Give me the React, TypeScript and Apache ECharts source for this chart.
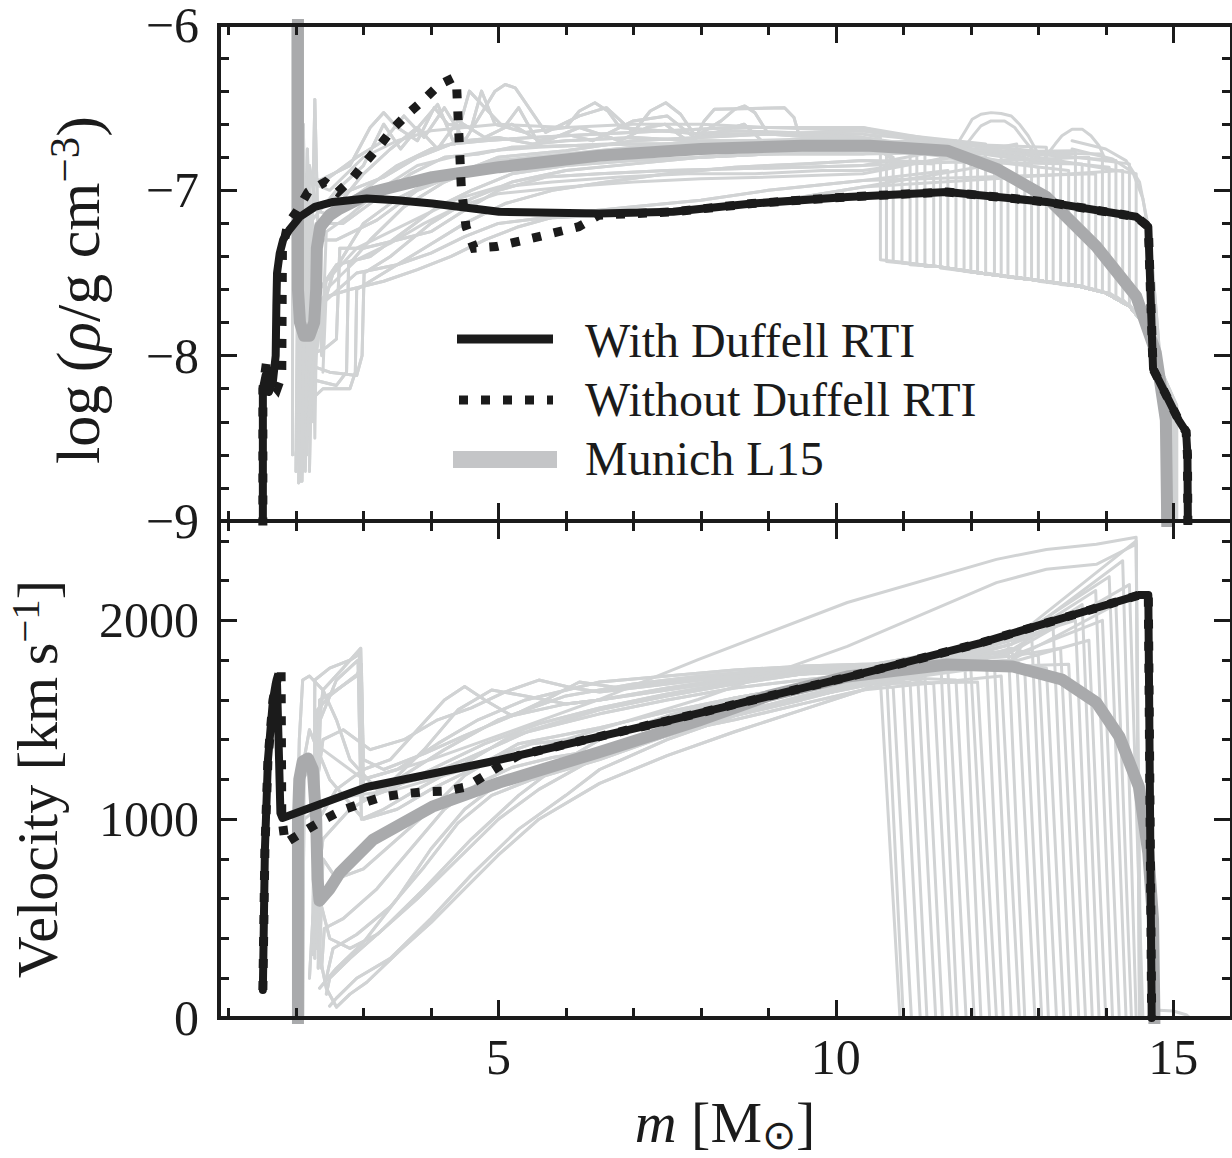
import React, { useEffect, useRef } from 'react';
import * as echarts from 'echarts';

const FONT = '"Liberation Serif", "Times New Roman", Times, serif';
const INK = '#1b1b1b';
const THIN_GRAY = '#d1d3d4';
const L15_GRAY = '#a9aaac';
const LEGEND_GRAY = '#c4c5c7';

// ---------------- axis ticks ----------------
const MASS_MINOR_TICKS = [1, 2, 3, 4, 6, 7, 8, 9, 11, 12, 13, 14];
const MASS_MAJOR_TICKS = [5, 10, 15];
const RHO_MAJOR_TICKS = [-9, -8, -7, -6];
const RHO_MINOR_TICKS = [-8.8, -8.6, -8.4, -8.2, -7.8, -7.6, -7.4, -7.2, -6.8, -6.6, -6.4, -6.2];
const VEL_MAJOR_TICKS = [0, 1000, 2000];
const VEL_MINOR_TICKS = [200, 400, 600, 800, 1200, 1400, 1600, 1800, 2200, 2400];

// ---------------- density panel: simulations ----------------
const rhoWithDuffell = [[1.51,-9.3],[1.51,-8.2],[1.55,-8.12],[1.6,-8.22],[1.66,-8.15],[1.7,-8.0],[1.71,-7.7],[1.72,-7.5],[1.76,-7.38],[1.81,-7.3],[1.9,-7.24],[2.06,-7.16],[2.28,-7.1],[2.55,-7.07],[3.05,-7.05],[3.5,-7.06],[4.02,-7.08],[5.01,-7.13],[6.49,-7.14],[7.59,-7.13],[8.76,-7.08],[10.17,-7.04],[11.65,-7.01],[13.12,-7.07],[14.45,-7.16],[14.63,-7.22],[14.7,-8.08],[15.08,-8.39],[15.19,-8.46],[15.21,-8.6],[15.22,-9.3]];
const rhoWithoutDuffellLeft = [[1.51,-9.3],[1.51,-8.2],[1.57,-8.02],[1.62,-8.15],[1.72,-8.2],[1.79,-8.12],[1.8,-7.36],[1.88,-7.2],[2.01,-7.13],[2.18,-7.01],[2.43,-6.95],[2.62,-7.01],[2.83,-6.93],[3.03,-6.83],[3.24,-6.73],[3.43,-6.63],[3.65,-6.54],[3.9,-6.45],[4.13,-6.36],[4.33,-6.32],[4.38,-6.36],[4.45,-6.98],[4.52,-7.22],[4.64,-7.35],[4.97,-7.34],[5.6,-7.28],[6.19,-7.22],[6.49,-7.15]];
const rhoMunichL15 = [[2.03,-5.5],[2.03,-7.6],[2.06,-7.8],[2.12,-7.88],[2.2,-7.88],[2.27,-7.8],[2.3,-7.6],[2.31,-7.35],[2.36,-7.22],[2.5,-7.15],[2.65,-7.11],[3.14,-7.01],[4.02,-6.92],[5.01,-6.86],[6.5,-6.79],[8.0,-6.75],[9.5,-6.73],[10.5,-6.73],[11.65,-6.76],[12.38,-6.87],[13.12,-7.04],[13.86,-7.34],[14.45,-7.64],[14.74,-7.98],[14.89,-8.39],[14.92,-9.3]];

// thin grey model lines, inner ejecta (up to 10.4 Msun)
const rhoModel0 = [[1.95,-8.6],[1.95,-5.6],[2.05,-5.6],[2.07,-6.9],[2.3,-6.95],[2.8,-6.85],[3.1,-6.62],[3.3,-6.53],[3.5,-6.62],[3.8,-6.7],[4.05,-6.5],[4.25,-6.6],[4.6,-6.62],[4.75,-6.4],[4.95,-6.6],[5.4,-6.65],[6.0,-6.62],[6.2,-6.52],[6.43,-6.47],[6.62,-6.52],[6.8,-6.62],[7.4,-6.64],[8,-6.66],[9,-6.66],[10.4,-6.66]];
const rhoModel1 = [[2.0,-8.7],[2.02,-7.8],[2.04,-6.45],[2.07,-7.6],[2.12,-6.9],[2.4,-6.95],[2.9,-6.8],[3.3,-6.7],[3.6,-6.55],[3.9,-6.68],[4.2,-6.5],[4.5,-6.7],[4.8,-6.5],[4.95,-6.4],[5.1,-6.36],[5.25,-6.38],[5.4,-6.47],[5.7,-6.65],[6.2,-6.55],[6.6,-6.5],[7.0,-6.65],[7.25,-6.52],[7.48,-6.47],[7.7,-6.54],[7.9,-6.66],[8.5,-6.64],[9.3,-6.65],[10.4,-6.68]];
const rhoModel2 = [[2.02,-8.65],[2.05,-8.4],[2.08,-6.7],[2.12,-8.0],[2.17,-6.75],[2.22,-7.7],[2.28,-6.45],[2.33,-7.3],[2.6,-7.1],[3.0,-6.9],[3.4,-6.75],[3.8,-6.62],[4.1,-6.75],[4.4,-6.58],[4.8,-6.68],[5.2,-6.6],[5.6,-6.7],[6.0,-6.66],[6.4,-6.7],[7.0,-6.58],[7.5,-6.55],[7.9,-6.68],[8.3,-6.58],[8.5,-6.51],[8.65,-6.49],[8.8,-6.53],[9.0,-6.66],[10.4,-6.7]];
const rhoModel3 = [[2.03,-8.3],[2.06,-7.5],[2.1,-8.5],[2.15,-7.1],[2.5,-7.15],[3.0,-7.0],[3.5,-6.85],[4.0,-6.75],[4.5,-6.7],[5.0,-6.68],[5.5,-6.72],[6.0,-6.7],[7.0,-6.68],[7.9,-6.7],[8.05,-6.58],[8.2,-6.51],[9.24,-6.5],[9.38,-6.56],[9.45,-6.66],[10.4,-6.68]];
const rhoModel4 = [[2.05,-8.5],[2.07,-8.76],[2.1,-7.3],[2.14,-8.3],[2.19,-7.0],[2.25,-7.9],[2.3,-7.2],[2.7,-7.2],[3.2,-7.05],[3.7,-6.9],[4.2,-6.8],[4.7,-6.78],[5.2,-6.74],[6,-6.73],[7,-6.72],[8,-6.72],[9,-6.71],[10.4,-6.72]];
const rhoModel5 = [[2.08,-8.6],[2.1,-8.2],[2.3,-8.15],[2.6,-8.18],[2.75,-8.1],[2.78,-7.45],[3.1,-7.3],[3.6,-7.1],[4.2,-6.95],[4.8,-6.85],[5.5,-6.8],[6.5,-6.78],[7.5,-6.76],[8.5,-6.74],[9.5,-6.73],[10.4,-6.74]];
const rhoModel6 = [[2.1,-8.7],[2.15,-8.05],[2.5,-8.1],[2.9,-8.12],[2.98,-8.0],[3.01,-7.5],[3.4,-7.4],[4.0,-7.2],[4.6,-7.05],[5.2,-6.95],[6.0,-6.88],[7.0,-6.84],[8.0,-6.8],[9.0,-6.78],[10.4,-6.78]];
const rhoModel7 = [[2.12,-8.55],[2.14,-8.3],[2.4,-8.2],[2.8,-8.2],[2.88,-8.1],[2.9,-7.6],[3.3,-7.5],[3.9,-7.35],[4.5,-7.2],[5.1,-7.08],[5.8,-7.0],[6.6,-6.95],[7.5,-6.9],[8.5,-6.86],[9.5,-6.84],[10.4,-6.82]];
const rhoModel8 = [[2.15,-8.4],[2.2,-8.0],[2.45,-7.95],[2.6,-7.9],[2.65,-7.35],[3.0,-7.35],[3.5,-7.3],[4.0,-7.25],[4.5,-7.12],[5.0,-7.0],[5.7,-6.92],[6.5,-6.9],[7.5,-6.88],[8.5,-6.87],[9.5,-6.86],[10.4,-6.85]];
const rhoModel9 = [[2.2,-8.5],[2.25,-7.95],[2.4,-7.65],[2.8,-7.6],[3.3,-7.55],[3.8,-7.48],[4.3,-7.4],[4.8,-7.3],[5.3,-7.22],[6.0,-7.14],[7.0,-7.1],[8.0,-7.06],[9.0,-7.0],[10.4,-6.94]];
const rhoModel10 = [[2.05,-8.3],[2.08,-8.0],[2.13,-8.6],[2.18,-7.5],[2.22,-8.4],[2.27,-7.4],[2.35,-7.6],[2.6,-7.45],[3.1,-7.4],[3.6,-7.25],[4.1,-7.1],[4.6,-7.0],[5.2,-6.9],[6,-6.85],[7,-6.82],[8,-6.8],[9,-6.78],[10.4,-6.76]];
const rhoModel11 = [[2.0,-8.6],[2.03,-8.5],[2.06,-7.0],[2.09,-8.76],[2.13,-7.6],[2.2,-7.3],[2.6,-7.3],[3.2,-7.18],[3.8,-7.0],[4.4,-6.9],[5,-6.82],[6,-6.78],[7,-6.74],[8,-6.7],[9,-6.7],[10.4,-6.7]];
const rhoModel12 = [[2.1,-8.2],[2.12,-7.8],[2.2,-7.2],[2.6,-7.0],[3.0,-6.85],[3.3,-6.6],[3.55,-6.75],[3.85,-6.6],[4.1,-6.48],[4.35,-6.72],[4.57,-6.4],[4.8,-6.5],[5.08,-6.62],[5.3,-6.5],[5.6,-6.72],[6.2,-6.62],[6.8,-6.7],[7.2,-6.62],[7.47,-6.6],[7.8,-6.7],[8.4,-6.63],[8.64,-6.6],[8.9,-6.7],[10.4,-6.7]];
const rhoModel13 = [[2.2,-8.7],[2.23,-8.1],[2.35,-7.7],[2.9,-7.5],[3.5,-7.45],[4.0,-7.38],[4.5,-7.28],[5.0,-7.2],[5.6,-7.17],[6.5,-7.15],[7.5,-7.14],[8.5,-7.1],[9.5,-7.04],[10.4,-6.98]];
const rhoModel14 = [[2.16,-8.6],[2.18,-8.4],[2.3,-7.85],[2.55,-7.5],[3.0,-7.2],[3.5,-7.05],[4.0,-6.95],[4.5,-6.88],[5.0,-6.8],[6,-6.76],[7,-6.7],[8,-6.68],[9,-6.66],[10.4,-6.64]];
const rhoModel15 = [[2.04,-8.77],[2.06,-8.1],[2.11,-6.6],[2.15,-7.9],[2.2,-6.85],[2.3,-7.1],[2.8,-7.0],[3.3,-6.92],[3.8,-6.8],[4.3,-6.72],[4.8,-6.7],[5.5,-6.68],[6.5,-6.66],[7.5,-6.64],[8.5,-6.62],[9.5,-6.62],[10.4,-6.62]];
const rhoModel16 = [[2.25,-8.4],[2.3,-8.0],[2.45,-7.55],[2.9,-7.35],[3.4,-7.25],[3.9,-7.15],[4.4,-7.05],[5.0,-6.98],[5.8,-6.95],[6.8,-6.92],[7.8,-6.9],[8.8,-6.9],[9.8,-6.88],[10.4,-6.88]];
const rhoModel17 = [[2.14,-8.7],[2.16,-8.2],[2.24,-7.3],[2.28,-8.5],[2.32,-7.4],[2.38,-8.0],[2.45,-7.25],[2.8,-7.15],[3.3,-6.98],[3.8,-6.85],[4.3,-6.8],[4.9,-6.76],[5.6,-6.74],[6.6,-6.72],[7.6,-6.72],[8.6,-6.7],[9.6,-6.69],[10.4,-6.69]];
const rhoModel18 = [[2.4,-8.1],[2.45,-7.6],[2.9,-7.42],[3.4,-7.32],[3.9,-7.2],[4.4,-7.1],[5.0,-7.02],[6.0,-6.98],[7.0,-6.95],[8.0,-6.93],[9.0,-6.92],[10.4,-6.9]];
const rhoModel19 = [[2.06,-8.5],[2.09,-6.8],[2.13,-7.7],[2.2,-6.95],[2.5,-7.0],[3.0,-6.8],[3.5,-6.7],[4.0,-6.64],[4.5,-6.62],[5.0,-6.6],[6.0,-6.62],[7.0,-6.6],[8.0,-6.6],[9.0,-6.62],[10.4,-6.64]];
const rhoBump0 = [[11.6,-6.75],[11.8,-6.72],[11.92,-6.64],[12.02,-6.57],[12.15,-6.54],[12.3,-6.53],[12.45,-6.535],[12.6,-6.55],[12.72,-6.6],[12.85,-6.67],[13.0,-6.78]];
const rhoBump1 = [[11.9,-6.74],[12.05,-6.66],[12.15,-6.61],[12.3,-6.58],[12.5,-6.58],[12.65,-6.62],[12.8,-6.7],[13.0,-6.8]];
const rhoBump2 = [[13.1,-6.8],[13.25,-6.72],[13.35,-6.67],[13.5,-6.63],[13.65,-6.63],[13.78,-6.67],[13.9,-6.73],[14.0,-6.82]];
const rhoEdge0 = [[13.5,-6.75],[14.1,-6.81],[14.4,-6.89],[14.55,-7.05],[14.65,-7.3],[14.72,-7.6],[14.8,-8.0],[14.95,-8.5],[15.0,-9.3]];
const rhoEdge1 = [[13.5,-6.7],[14.0,-6.75],[14.3,-6.82],[14.5,-6.95],[14.62,-7.2],[14.7,-7.5],[14.78,-7.9],[14.88,-8.5],[14.9,-9.3]];

// outer ejecta: where each model drops at its reverse shock
const shockMass = [10.66,10.75,10.85,10.98,11.1,11.2,11.32,11.45,11.55,11.66,11.78,11.9,12.0,12.1,12.22,12.35,12.45,12.55,12.68,12.8,12.9,13.0,13.12,13.22,13.33,13.45,13.55,13.65,13.75,13.85,13.95,14.05,14.15,14.25,14.35,14.45];
const shockRhoHigh = [-6.68,-6.74,-6.8,-6.86,-6.7,-6.78,-6.72,-6.84,-6.76,-6.88,-6.7,-6.8,-6.74,-6.86,-6.72,-6.82,-6.76,-6.88,-6.72,-6.8,-6.76,-6.86,-6.74,-6.84,-6.78,-6.88,-6.76,-6.84,-6.8,-6.9,-6.78,-6.86,-6.82,-6.88,-6.84,-6.9];
const shockRhoLow = [-7.42,-7.43,-7.43,-7.44,-7.45,-7.45,-7.46,-7.46,-7.47,-7.47,-7.48,-7.49,-7.49,-7.5,-7.5,-7.51,-7.52,-7.52,-7.53,-7.54,-7.54,-7.55,-7.55,-7.56,-7.57,-7.57,-7.58,-7.58,-7.59,-7.6,-7.61,-7.62,-7.64,-7.66,-7.69,-7.72];
const rhoLowerEnvelope = [[11.5,-7.46],[12.13,-7.5],[12.9,-7.54],[13.61,-7.58],[14.0,-7.62],[14.35,-7.7],[14.55,-7.8],[14.7,-7.98]];
const tailMass = [14.84,14.9,14.96,15.02,14.87,14.93,14.99,15.05,14.86,14.92,14.98,15.04,14.85,14.91,14.97,15.03,14.88,14.94,15.0,14.84,14.9,14.96,15.02,14.87,14.93,14.99,15.05,14.86,14.92,14.98,15.04,14.85,14.91,14.97,15.03,14.89];

// ---------------- velocity panel ----------------
const velWithDuffell = [[1.51,141],[1.54,845],[1.585,1298],[1.66,1600],[1.7,1680],[1.72,1680],[1.75,1298],[1.77,1031],[1.8,1006],[3.05,1162],[5.01,1298],[7.5,1495],[10.18,1715],[12.14,1886],[13.61,2037],[14.5,2128],[14.63,2128],[14.68,0]];
const velWithoutDuffellLeft = [[1.51,141],[1.54,845],[1.585,1298],[1.66,1600],[1.72,1700],[1.78,1767],[1.79,1011],[1.84,880],[2.1,935],[2.4,996],[2.69,1046],[2.99,1081],[3.28,1112],[3.58,1127],[3.87,1137],[4.23,1142],[4.52,1162],[4.76,1212],[4.97,1257],[5.3,1321]];
const velMunichL15 = [[2.03,-50],[2.03,1000],[2.05,1200],[2.1,1290],[2.18,1305],[2.25,1250],[2.3,1000],[2.32,700],[2.35,590],[2.5,650],[2.65,730],[3.14,897],[4.02,1063],[5.01,1184],[6.49,1337],[7.96,1495],[9.0,1620],[10.17,1718],[11.65,1778],[12.62,1768],[13.35,1703],[13.86,1587],[14.2,1416],[14.49,1164],[14.63,831],[14.7,494],[14.72,25],[14.72,-50]];

const velModel0 = [[2.25,320],[2.27,1200],[2.32,1550],[2.5,1620],[2.8,1700],[2.95,1740],[2.99,1100],[3.4,1150],[4.0,1250],[4.8,1380],[5.6,1480],[6.5,1560],[7.5,1630],[8.5,1690],[9.5,1730],[10.4,1740]];
const velModel1 = [[2.3,400],[2.32,1400],[2.4,1650],[2.7,1760],[2.96,1860],[3.0,1300],[3.3,1250],[3.9,1330],[4.5,1420],[5.2,1520],[6.0,1580],[6.5,1600],[7.5,1660],[8.5,1710],[9.5,1740],[10.4,1760]];
const velModel2 = [[2.28,300],[2.3,900],[2.36,1500],[2.6,1700],[2.92,1800],[2.97,1000],[3.3,1050],[3.8,1150],[4.5,1280],[5.2,1420],[6.5,1530],[7.5,1600],[8.5,1660],[9.5,1700],[10.4,1730]];
const velModel3 = [[2.3,420],[2.33,350],[2.45,150],[2.6,55],[2.8,120],[3.05,180],[3.55,343],[4.0,480],[4.5,650],[5.0,820],[5.6,1000],[6.5,1180],[7.5,1320],[8.5,1440],[9.5,1550],[10.4,1650]];
const velModel4 = [[2.33,250],[2.35,600],[2.5,400],[2.8,350],[3.2,420],[3.8,600],[4.4,800],[5.0,1000],[5.6,1150],[6.5,1320],[7.5,1420],[8.5,1520],[9.5,1600],[10.4,1680]];
const velModel5 = [[2.35,300],[2.4,800],[2.6,700],[3.0,750],[3.5,900],[4.0,1050],[4.5,1220],[5.0,1320],[5.5,1380],[6.5,1420],[7.5,1500],[8.5,1570],[9.5,1640],[10.4,1700]];
const velModel6 = [[2.3,350],[2.34,1000],[2.6,1150],[3.0,1250],[3.4,1300],[3.8,1450],[4.2,1600],[4.5,1667],[4.8,1600],[5.2,1520],[5.7,1600],[6.2,1690],[6.8,1660],[7.5,1690],[8.5,1730],[9.5,1760],[10.4,1770]];
const velModel7 = [[2.2,200],[2.25,500],[2.4,900],[2.8,1050],[3.3,1150],[3.9,1350],[4.4,1550],[4.9,1650],[5.4,1620],[6.0,1580],[6.5,1600],[7.5,1650],[8.5,1700],[9.5,1730],[10.4,1750]];
const velModel8 = [[2.45,120],[2.5,200],[2.8,300],[3.3,450],[3.9,650],[4.6,900],[5.3,1120],[6.0,1300],[6.5,1400],[7.5,1520],[8.5,1610],[9.5,1670],[10.4,1710]];
const velModel9 = [[2.25,380],[2.28,1100],[2.4,1400],[2.7,1450],[3.1,1350],[3.6,1400],[4.1,1500],[4.6,1560],[5.1,1640],[5.6,1700],[6.1,1660],[6.5,1640],[7.5,1680],[8.5,1720],[9.5,1750],[10.4,1765]];
const velModel10 = [[2.1,-50],[2.12,1300],[2.2,1450],[2.5,1200],[3.0,1000],[3.5,1050],[4.0,1150],[4.6,1250],[5.3,1380],[6.5,1460],[7.5,1540],[8.5,1610],[9.5,1670],[10.4,1720]];
const velModel11 = [[2.38,250],[2.42,450],[2.7,500],[3.2,650],[3.7,850],[4.2,1050],[4.7,1180],[5.2,1260],[5.8,1310],[6.5,1350],[7.5,1450],[8.5,1540],[9.5,1610],[10.4,1670]];
const velModel12 = [[2.26,330],[2.28,1700],[2.5,1760],[2.8,1800],[2.94,1830],[2.98,1200],[3.5,1250],[4.1,1380],[4.7,1500],[5.4,1600],[6.5,1690],[7.5,1720],[8.5,1750],[9.5,1770],[10.4,1780]];
const velModel13 = [[2.5,60],[2.6,100],[2.9,200],[3.4,300],[4.0,500],[4.6,720],[5.3,950],[6.0,1120],[6.5,1250],[7.5,1400],[8.5,1520],[9.5,1610],[10.4,1680]];
const velModel14 = [[1.97,-50],[1.97,580],[2.0,620],[2.05,1400],[2.1,1700],[2.2,1720],[2.4,1650],[2.6,1500],[2.8,1300],[3.2,1150],[3.8,1200],[4.5,1300],[5.5,1450],[6.5,1550],[7.5,1620],[8.5,1680],[9.5,1730],[10.4,1760]];
const velModel15 = [[2.45,200],[2.55,350],[2.9,420],[3.4,560],[3.9,760],[4.4,980],[4.9,1120],[5.5,1200],[6.5,1300],[7.5,1420],[8.5,1530],[9.5,1620],[10.4,1690]];
const velModel16 = [[2.35,150],[2.6,250],[3.0,380],[3.5,600],[4.0,850],[4.5,1050],[5.0,1180],[5.6,1250],[6.5,1330],[7.5,1430],[8.5,1500],[9.5,1580],[10.4,1650]];
const velModel17 = [[2.3,500],[2.35,1600],[2.6,1650],[2.9,1720],[2.97,1780],[3.0,1150],[3.5,1200],[4.2,1350],[5.0,1500],[6.0,1620],[7.0,1680],[8.0,1720],[9.0,1750],[10.4,1770]];
const velUpper0 = [[2.05,-50],[2.1,1200],[2.4,1350],[3.0,1200],[4.0,1300],[5.0,1420],[6.49,1602],[7.96,1803],[10.17,2090],[12.38,2307],[13.12,2357],[13.86,2383],[14.45,2418],[14.5,0],[15.1,0]];
const velUpper1 = [[2.08,-50],[2.12,1000],[2.5,1100],[3.5,1150],[5.0,1300],[6.49,1451],[7.96,1602],[10.17,1869],[12.38,2190],[13.12,2257],[13.86,2282],[14.45,2383],[14.5,0],[15.1,0]];
const velShoulder = [[14.66,0],[14.72,40],[15.0,35],[15.2,15],[15.25,0]];

const curtainVelMid = [1760,1780,1800,1770,1790,1810,1760,1780,1800,1770,1790,1810,1760,1780,1800,1770,1790,1810,1760,1840,1800,1860,1780,1880,1820,1770,1900,1850,1790,1880,1820,1900,1800,1880,1840,1900];
const shockVelHigh = [1700,1740,1660,1770,1690,1800,1720,1680,1830,1750,1700,1860,1760,1690,1880,1780,1720,1900,1800,1740,1940,1820,1760,1960,1860,1780,2000,2080,1900,2150,2000,2220,2080,2300,2180,2400];
const shockVelEnd = [10.95,11.0,11.12,11.25,11.35,11.48,11.58,11.72,11.8,11.93,12.05,12.15,12.28,12.38,12.48,12.6,12.72,12.8,12.95,13.05,13.15,13.27,13.38,13.48,13.6,13.7,13.8,13.9,14.0,14.1,14.2,14.3,14.38,14.45,14.55,14.52];

// ---------------- assembled lines (each model: inner part + its shock) ----------------
const rhoInner = [rhoModel0, rhoModel1, rhoModel2, rhoModel3, rhoModel4, rhoModel5, rhoModel6, rhoModel7, rhoModel8, rhoModel9, rhoModel10, rhoModel11, rhoModel12, rhoModel13, rhoModel14, rhoModel15, rhoModel16, rhoModel17, rhoModel18, rhoModel19];
const velInner = [velModel0, velModel1, velModel2, velModel3, velModel4, velModel5, velModel6, velModel7, velModel8, velModel9, velModel10, velModel11, velModel12, velModel13, velModel14, velModel15, velModel16, velModel17];
const rhoExtraLines = [rhoBump0, rhoBump1, rhoBump2, rhoEdge0, rhoEdge1];
const velExtraLines = [velUpper0, velUpper1, velShoulder];

const rhoModels = shockMass.map((m, i) => {
  const pts: number[][] = rhoInner[i % rhoInner.length].slice();
  pts.push([m, shockRhoHigh[i]], [m, shockRhoLow[i]]);
  rhoLowerEnvelope.forEach((p) => { if (p[0] > m) pts.push(p); });
  pts.push([tailMass[i], -8.3], [tailMass[i], -9.3]);
  return pts;
});
const velModels = shockMass.map((m, i) => {
  const pts: number[][] = velInner[i % velInner.length].slice();
  if (m > 12.7) pts.push([12.6, curtainVelMid[i]]);
  pts.push([m, shockVelHigh[i]], [shockVelEnd[i], 0], [15.15, 0]);
  return pts;
});
const rhoWithoutDuffell = rhoWithoutDuffellLeft.concat(rhoWithDuffell.filter((p) => p[0] > 6.5));
const velWithoutDuffell = velWithoutDuffellLeft.concat(velWithDuffell.filter((p) => p[0] > 5.3));

function lineSeries(data: number[][], panel: number, color: string, width: number, z: number, dash?: number[]) {
  return {
    type: 'line',
    xAxisIndex: panel === 0 ? 0 : 7,
    yAxisIndex: panel === 0 ? 0 : 4,
    data,
    symbol: 'none',
    showSymbol: false,
    silent: true,
    clip: true,
    z,
    emphasis: { disabled: true },
    lineStyle: { color, width, type: dash ? dash : 'solid', cap: dash ? 'butt' : 'round', join: dash ? 'miter' : 'round' },
  };
}

function xAx(grid: number, position: string, ticks: number[], len: number, labels: boolean) {
  return {
    type: 'value', gridIndex: grid, position, min: 0.86, max: 15.87, z: 10,
    axisLine: { show: true, onZero: false, lineStyle: { color: INK, width: 4, cap: 'square' } },
    axisTick: { show: true, inside: true, length: len, customValues: ticks, lineStyle: { color: INK, width: 3 } },
    axisLabel: labels
      ? { show: true, customValues: ticks, fontSize: 50, fontFamily: FONT, color: INK, margin: 14 }
      : { show: false },
    splitLine: { show: false },
  };
}

function yAx(grid: number, position: string, min: number, max: number, ticks: number[], len: number, labels: boolean) {
  return {
    type: 'value', gridIndex: grid, position, min, max, z: 10,
    axisLine: { show: true, onZero: false, lineStyle: { color: INK, width: 4, cap: 'square' } },
    axisTick: { show: true, inside: true, length: len, customValues: ticks, lineStyle: { color: INK, width: 3 } },
    axisLabel: labels
      ? {
          show: true, customValues: ticks, fontSize: 50, fontFamily: FONT, color: INK, margin: 20,
          formatter: (v: number) => (v < 0 ? '\u2212' + String(-v) : String(v)),
        }
      : { show: false },
    splitLine: { show: false },
  };
}

function titleRich(size: number) {
  const sup = Math.round(size * 0.7);
  return {
    n: { fontSize: size, fontFamily: FONT, font: `${size}px ${FONT}`, lineHeight: size + 8, fill: INK },
    i: { fontSize: size, fontFamily: FONT, fontStyle: 'italic', font: `italic ${size}px ${FONT}`, lineHeight: size + 8, fill: INK },
    s: { fontSize: sup, fontFamily: FONT, font: `${sup}px ${FONT}`, lineHeight: sup, verticalAlign: 'top', fill: INK },
    b: { fontSize: sup, fontFamily: FONT, font: `${sup}px ${FONT}`, lineHeight: sup, verticalAlign: 'bottom', fill: INK },
  };
}

export default function App() {
  const ref = useRef<HTMLDivElement>(null);
  useEffect(() => {
    if (!ref.current) return;
    const chart = echarts.init(ref.current, undefined, { renderer: 'svg' });
    const series: any[] = [];
    rhoModels.forEach((d) => series.push(lineSeries(d, 0, THIN_GRAY, 3, 2)));
    rhoExtraLines.forEach((d) => series.push(lineSeries(d, 0, THIN_GRAY, 3, 2)));
    velModels.forEach((d) => series.push(lineSeries(d, 1, THIN_GRAY, 3, 2)));
    velExtraLines.forEach((d) => series.push(lineSeries(d, 1, THIN_GRAY, 3, 2)));
    series.push(lineSeries(rhoMunichL15, 0, L15_GRAY, 12, 3));
    series.push(lineSeries(velMunichL15, 1, L15_GRAY, 12, 3));
    series.push(lineSeries(rhoWithoutDuffell, 0, INK, 9, 4, [9, 13]));
    series.push(lineSeries(velWithoutDuffell, 1, INK, 9, 4, [9, 13]));
    series.push(lineSeries(rhoWithDuffell, 0, INK, 8, 5));
    series.push(lineSeries(velWithDuffell, 1, INK, 8, 5));

    const legendText = (y: number, text: string) => ({
      type: 'text', x: 585, y, z: 30,
      style: {
        text, font: `48px ${FONT}`, fontSize: 48, fontFamily: FONT, fill: INK,
        align: 'left', verticalAlign: 'middle',
      },
    });

    const option: any = {
      animation: false,
      backgroundColor: '#ffffff',
      grid: [
        { left: 219, top: 25, width: 1017, height: 496 },
        { left: 219, top: 521, width: 1017, height: 497 },
      ],
      xAxis: [
        xAx(0, 'bottom', MASS_MINOR_TICKS, 10, false),
        xAx(0, 'bottom', MASS_MAJOR_TICKS, 18, false),
        xAx(0, 'top', MASS_MINOR_TICKS, 10, false),
        xAx(0, 'top', MASS_MAJOR_TICKS, 18, false),
        xAx(1, 'top', MASS_MINOR_TICKS, 10, false),
        xAx(1, 'top', MASS_MAJOR_TICKS, 18, false),
        xAx(1, 'bottom', MASS_MINOR_TICKS, 10, false),
        xAx(1, 'bottom', MASS_MAJOR_TICKS, 18, true),
      ],
      yAxis: [
        yAx(0, 'left', -9, -6, RHO_MAJOR_TICKS, 18, true),
        yAx(0, 'left', -9, -6, RHO_MINOR_TICKS, 10, false),
        yAx(0, 'right', -9, -6, RHO_MAJOR_TICKS, 18, false),
        yAx(0, 'right', -9, -6, RHO_MINOR_TICKS, 10, false),
        yAx(1, 'left', 0, 2500, VEL_MAJOR_TICKS, 18, true),
        yAx(1, 'left', 0, 2500, VEL_MINOR_TICKS, 10, false),
        yAx(1, 'right', 0, 2500, VEL_MAJOR_TICKS, 18, false),
        yAx(1, 'right', 0, 2500, VEL_MINOR_TICKS, 10, false),
      ],
      series,
      graphic: [
        {
          type: 'text', x: 78, y: 290, rotation: Math.PI / 2, z: 30,
          style: { text: '{n|log\u2009(}{i|\u03c1}{n|/g cm}{s|\u22123}{n|)}', rich: titleRich(62), align: 'center', verticalAlign: 'middle', fill: INK },
        },
        {
          type: 'text', x: 37, y: 779, rotation: Math.PI / 2, z: 30,
          style: { text: '{n|Velocity [km\u2009s}{s|\u22121}{n|]}', rich: titleRich(58), align: 'center', verticalAlign: 'middle', fill: INK },
        },
        {
          type: 'text', x: 725, y: 1122, z: 30,
          style: { text: '{i|m}{n| [M}{b|\u2299}{n|]}', rich: titleRich(58), align: 'center', verticalAlign: 'middle', fill: INK },
        },
        { type: 'line', z: 30, shape: { x1: 457, y1: 339, x2: 553, y2: 339 }, style: { stroke: INK, lineWidth: 9 } },
        { type: 'line', z: 30, shape: { x1: 459, y1: 400, x2: 553, y2: 400 }, style: { stroke: INK, lineWidth: 9, lineDash: [9, 13] } },
        { type: 'rect', z: 30, shape: { x: 453, y: 451, width: 104, height: 17 }, style: { fill: LEGEND_GRAY } },
        legendText(340, 'With Duffell RTI'),
        legendText(399, 'Without Duffell RTI'),
        legendText(458, 'Munich L15'),
      ],
    };
    chart.setOption(option);
    return () => chart.dispose();
  }, []);
  return <div ref={ref} style={{ position: 'absolute', left: 0, top: 0, width: 1232, height: 1158, background: '#fff' }} />;
}
